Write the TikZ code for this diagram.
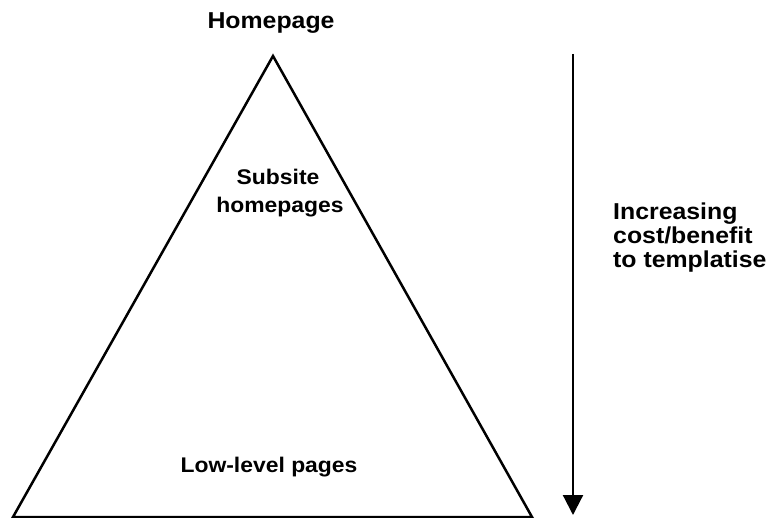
\documentclass[tikz,border=0pt]{standalone}
\usepackage{fontspec}
\setmainfont{Liberation Sans}[FakeStretch=1.08]
\usetikzlibrary{arrows.meta}
\begin{document}
\begin{tikzpicture}[x=1pt,y=-1pt,
  label text/.style={font=\fontsize{23}{24}\selectfont\bfseries, inner sep=0pt},
  inner text/.style={font=\fontsize{21.2}{24}\selectfont\bfseries, inner sep=0pt},
  pyramid/.style={draw=black, line width=2.5pt, line join=miter},
  flow/.style={draw=black, line width=2.2pt, -{Triangle[length=20pt,width=20pt]}}]
  \useasboundingbox (0,0) rectangle (778,518);
  % pyramid corners
  \coordinate (apex) at (273,56);
  \coordinate (left) at (13,517);
  \coordinate (right) at (532,517);
  \draw[pyramid] (apex) -- (right) -- (left) -- cycle;
  % level labels
  \node[label text, anchor=base] (home) at (271,29) {Homepage};
  \node[inner text, anchor=base] (sub1) at (278,185) {Subsite};
  \node[inner text, anchor=base] (sub2) at (280,213) {homepages};
  \node[inner text, anchor=base] (low) at (269,472) {Low-level pages};
  % cost/benefit arrow
  \coordinate (atop) at (573,54);
  \coordinate (abot) at (573,515);
  \draw[flow] (atop) -- (abot);
  \node[label text, anchor=base west, align=left] (cost) at (613,268)
    {Increasing\\cost/benefit\\to templatise};
\end{tikzpicture}
\end{document}
